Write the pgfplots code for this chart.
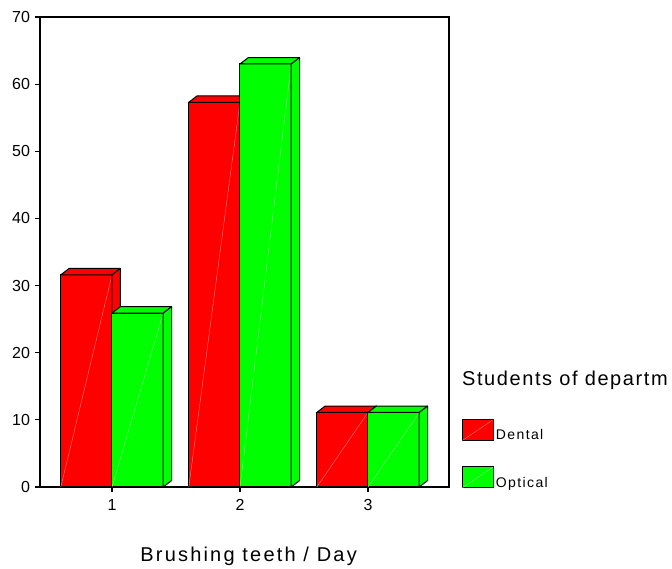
\documentclass[border=0pt]{standalone}
\usepackage{pgfplots}
\usepackage{pgfplotstable}
\pgfplotsset{compat=1.18}
\usepackage{fontspec}
\setmainfont{Liberation Sans}
\newfontfamily\spaced[LetterSpace=8]{Liberation Sans}
\newfontfamily\spacedx[LetterSpace=11]{Liberation Sans}
\newfontfamily\spacedl[LetterSpace=10]{Liberation Sans}
\definecolor{barred}{RGB}{255,0,0}
\definecolor{bargreen}{RGB}{0,255,0}

\pgfplotstableread{
x y
1 31.6
2 57.3
3 11.1
}\dental
\pgfplotstableread{
x y
1 25.9
2 63.0
3 11.1
}\optical

\pgfplotsset{
  bar3d/.style={
    scatter, only marks, mark=*, mark size=0pt,
    visualization depends on={\thisrow{y} \as \hval},
    scatter/@pre marker code/.append code={%
      \pgfmathsetmacro\hneg{-\hval}%
      \pgfmathsetmacro\hside{0.95-\hval}%
      \filldraw[fill=#1, draw=black, line width=1pt, line join=round]
        (axis direction cs:-0.2,0) rectangle (axis direction cs:0.2,\hneg);
      \draw[#1!45!white, line width=0.35pt]
        (axis direction cs:-0.2,\hneg) -- (axis direction cs:0.2,0);
      \filldraw[fill=#1, draw=black, line width=1pt, line join=round]
        (axis direction cs:-0.2,0) -- (axis direction cs:-0.135,0.95) --
        (axis direction cs:0.265,0.95) -- (axis direction cs:0.2,0) -- cycle;
      \filldraw[fill=#1, draw=black, line width=1pt, line join=round]
        (axis direction cs:0.2,0) -- (axis direction cs:0.265,0.95) --
        (axis direction cs:0.265,\hside) -- (axis direction cs:0.2,\hneg) -- cycle;
    },
  },
}

\begin{document}
\begin{tikzpicture}
\useasboundingbox (0,0) rectangle (672pt,569pt);
\begin{axis}[
  at={(40pt,82pt)}, anchor=south west,
  scale only axis, width=409pt, height=470pt,
  xmin=0.4375, xmax=3.633, ymin=0, ymax=70,
  xtick={1,2,3}, ytick={0,10,...,70},
  tick pos=left, tick align=outside,
  major tick length=5pt,
  axis line style={line width=1.2pt},
  every tick/.style={black, line width=1.2pt},
  tick label style={font=\fontsize{16}{19}\selectfont},
  yticklabel style={xshift=-1.5pt},
  xticklabel style={yshift=-3.5pt},
  /pgf/number format/assume math mode=true,
  xlabel={\spacedx\fontsize{20}{24}\selectfont Brushing teeth / Day},
  xlabel style={at={(axis description cs:0.51,0)}, anchor=base, yshift=-75pt},
  clip=false,
  legend style={at={(rel axis cs:1.0315,0.1447)}, anchor=north west,
    draw=none, fill=none, inner sep=0pt, outer sep=0pt, row sep=23pt,
    font=\spacedl\fontsize{14}{16}\selectfont,
    /tikz/every even column/.append style={column sep=1pt}},
  legend cell align=left,
]
\addplot[bar3d=barred, forget plot] table[x expr=\thisrow{x}-0.2, y=y] {\dental};
\addplot[bar3d=bargreen, forget plot] table[x expr=\thisrow{x}+0.2, y=y] {\optical};

\addlegendimage{legend image code/.code={
  \filldraw[fill=barred, draw=black, line width=1pt] (0pt,-5pt) rectangle (31pt,16pt);
  \draw[barred!45!white, line width=0.35pt] (0pt,-5pt) -- (31pt,16pt);}}
\addlegendentry{Dental}
\addlegendimage{legend image code/.code={
  \filldraw[fill=bargreen, draw=black, line width=1pt] (0pt,-5pt) rectangle (31pt,16pt);
  \draw[bargreen!45!white, line width=0.35pt] (0pt,-5pt) -- (31pt,16pt);}}
\addlegendentry{Optical}

\node[anchor=base west, inner sep=0pt, font=\spaced\fontsize{20}{24}\selectfont]
  at (rel axis cs:1.0315,0.2155) {Students of departm};
\end{axis}
\end{tikzpicture}
\end{document}
